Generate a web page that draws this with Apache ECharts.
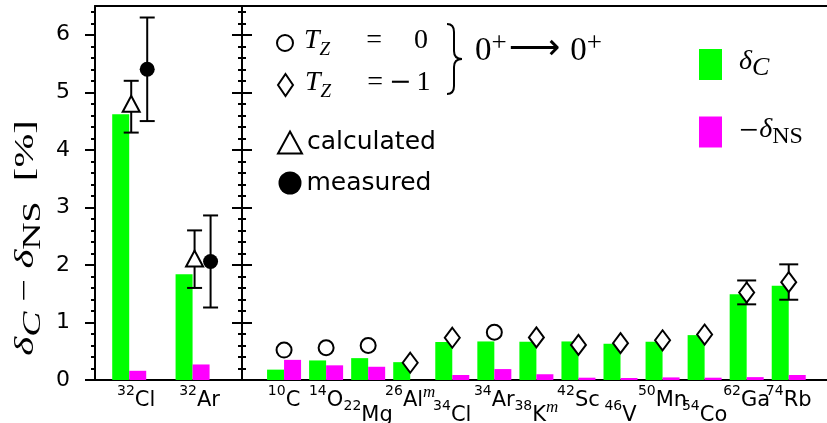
<!DOCTYPE html>
<html><head><meta charset="utf-8">
<script src="https://cdn.jsdelivr.net/npm/echarts@6/dist/echarts.min.js"></script>
<style>html,body{margin:0;padding:0;background:#fff}#c{width:827px;height:423px}</style>
</head><body><div id="c"></div>
<script>
// ---------------- data ----------------
const leftMass = ['32', '32'];
const leftElem = ['Cl', 'Ar'];
const leftDeltaC = [4.62, 1.84];
const leftDeltaNS = [0.16, 0.27];
const leftCalc = [4.80, 2.11];
const leftCalcLow = [4.30, 1.60];
const leftCalcHigh = [5.20, 2.60];
const leftMeas = [5.40, 2.06];
const leftMeasLow = [4.50, 1.26];
const leftMeasHigh = [6.30, 2.86];

const rightMass = ['10', '14', '22', '26', '34', '34', '38', '42', '46', '50', '54', '62', '74'];
const rightElem = ['C', 'O', 'Mg', 'Al', 'Cl', 'Ar', 'K', 'Sc', 'V', 'Mn', 'Co', 'Ga', 'Rb'];
const rightIsomer = [0, 0, 0, 1, 0, 0, 1, 0, 0, 0, 0, 0, 0];
const rightLowRow = [0, 0, 1, 0, 1, 0, 1, 0, 1, 0, 1, 0, 0];
const rightDeltaC = [0.18, 0.34, 0.38, 0.31, 0.66, 0.67, 0.665, 0.67, 0.63, 0.665, 0.78, 1.49, 1.64];
const rightDeltaNS = [0.35, 0.255, 0.23, 0, 0.087, 0.19, 0.10, 0.04, 0.035, 0.045, 0.04, 0.05, 0.087];
const rightTz0 = [0.52, 0.56, 0.60, null, null, 0.83, null, null, null, null, null, null, null];
const rightTzm1 = [null, null, null, 0.30, 0.735, null, 0.74, 0.61, 0.64, 0.69, 0.79, 1.52, 1.70];
const rightErrLow = [null, null, null, null, null, null, null, null, null, null, null, 1.315, 1.395];
const rightErrHigh = [null, null, null, null, null, null, null, null, null, null, null, 1.73, 2.01];

const yTicks = [0, 1, 2, 3, 4, 5, 6];
const yMinorTicks = [0.2, 0.4, 0.6, 0.8, 1.2, 1.4, 1.6, 1.8, 2.2, 2.4, 2.6, 2.8, 3.2, 3.4, 3.6, 3.8,
  4.2, 4.4, 4.6, 4.8, 5.2, 5.4, 5.6, 5.8, 6.2, 6.4];

// ---------------- helpers ----------------
const GREEN = '#00ff00', MAGENTA = '#ff00ff';
const SANS = 'DejaVu Sans', SERIF = 'Liberation Serif';
const idx = a => a.map((_, i) => i);
const pairs = vals => vals.map((v, i) => [i, v]).filter(p => p[1] != null);
const triples = (lo, hi) => lo.map((v, i) => [i, v, hi[i]]).filter(p => p[1] != null);

const leftIdx = idx(leftMass);
const upperIdx = idx(rightMass).filter(i => !rightLowRow[i]);
const lowerIdx = idx(rightMass).filter(i => rightLowRow[i]);
// alternate labels over two axes so neighbouring labels are never auto-hidden
const upperA = upperIdx.filter((_, k) => k % 2 === 0);
const upperB = upperIdx.filter((_, k) => k % 2 === 1);
const lowerA = lowerIdx.filter((_, k) => k % 2 === 0);
const lowerB = lowerIdx.filter((_, k) => k % 2 === 1);

const catRich = {
  sup: { fontFamily: SANS, fontSize: 14, verticalAlign: 'top', color: '#000' },
  el: { fontFamily: SANS, fontSize: 21, lineHeight: 27, verticalAlign: 'bottom', color: '#000' },
  m: { fontFamily: SERIF, fontStyle: 'italic', fontSize: 17, verticalAlign: 'top', color: '#000' }
};
const catLabel = (mass, elem, iso) => '{sup|' + mass + '}{el|' + elem + '}' + (iso ? '{m|m}' : '');

function errorBars(xi, yi, data, dx, cap) {
  return {
    type: 'custom', xAxisIndex: xi, yAxisIndex: yi, z: 3, silent: true,
    data: data, encode: { x: 0, y: [1, 2] },
    renderItem: function (params, api) {
      const x = api.value(0);
      const lo = api.coord([x, api.value(1)]);
      const hi = api.coord([x, api.value(2)]);
      const px = lo[0] + dx;
      const st = { stroke: '#000', lineWidth: 2 };
      return { type: 'group', children: [
        { type: 'line', shape: { x1: px, y1: lo[1], x2: px, y2: hi[1] }, style: st },
        { type: 'line', shape: { x1: px - cap / 2, y1: hi[1], x2: px + cap / 2, y2: hi[1] }, style: st },
        { type: 'line', shape: { x1: px - cap / 2, y1: lo[1], x2: px + cap / 2, y2: lo[1] }, style: st }
      ] };
    }
  };
}

const axisLineStyle = { color: '#000', width: 2 };
function yAx(grid, opts) {
  return Object.assign({
    type: 'value', gridIndex: grid, position: 'left', min: 0, max: 6.5, interval: 1,
    splitLine: { show: false },
    axisLine: { show: false, onZero: false, lineStyle: axisLineStyle },
    axisLabel: { show: false },
    axisTick: { show: false }
  }, opts);
}
function majorTick(inside) {
  return { show: true, inside: inside, length: 10, customValues: yTicks, lineStyle: { color: '#000', width: 2 } };
}
function minorTickAx(inside) {
  return { show: true, inside: inside, length: 4, customValues: yMinorTicks, lineStyle: { color: '#000', width: 2 } };
}

const openStyle = { color: '#fff', borderColor: '#000', borderWidth: 2, opacity: 1 };
const LX_MIN = -0.54, LX_MAX = 1.78, RX_MIN = -1, RX_MAX = 12.91;

function xAx(grid, min, max, pos, lineShow, labelOpts) {
  return {
    type: 'value', gridIndex: grid, position: pos, min: min, max: max, interval: 1,
    splitLine: { show: false },
    axisLine: { show: lineShow, onZero: false, lineStyle: axisLineStyle },
    axisTick: { show: false },
    axisLabel: labelOpts || { show: false }
  };
}
function catAxisLabel(values, margin, getter, padding) {
  return { show: true, customValues: values, margin: margin, rich: catRich, showMinLabel: true, showMaxLabel: true,
    hideOverlap: false, formatter: getter, padding: padding || 0 };
}
const rightGetter = v => { const i = Math.round(v); return rightMass[i] ? catLabel(rightMass[i], rightElem[i], rightIsomer[i]) : ''; };

const braceStyle = { fill: 'none', stroke: '#000', lineWidth: 2 };
const tzRich = (padT, padE) => ({
  t: { fontFamily: SERIF, fontStyle: 'italic', fontSize: 28, lineHeight: 32, verticalAlign: 'top', padding: [0, 0, 0, padT] },
  z: { fontFamily: SERIF, fontStyle: 'italic', fontSize: 19, verticalAlign: 'bottom' },
  e: { fontFamily: SERIF, fontSize: 28, verticalAlign: 'top', padding: [0, 0, 0, 36] },
  v: { fontFamily: SERIF, fontSize: 28, verticalAlign: 'top', padding: [0, 0, 0, padE] },
  m: { fontFamily: 'DejaVu Serif', fontSize: 27, verticalAlign: 'top', padding: [0, 0, 0, 6] },
  w: { fontFamily: SERIF, fontSize: 28, verticalAlign: 'top', padding: [0, 0, 0, 5] }
});

const option = {
  animation: false,
  backgroundColor: '#fff',
  grid: [
    { left: 95, top: 6, width: 147, height: 374, outerBoundsMode: 'none', containLabel: false },
    { left: 242, top: 6, right: 0, height: 374, outerBoundsMode: 'none', containLabel: false }
  ],
  xAxis: [
    xAx(0, LX_MIN, LX_MAX, 'bottom', true,
      catAxisLabel(leftIdx, 4, v => catLabel(leftMass[Math.round(v)], leftElem[Math.round(v)], false), [0, 0, 0, 14])),
    xAx(0, LX_MIN, LX_MAX, 'top', true),
    xAx(1, RX_MIN, RX_MAX, 'bottom', true, catAxisLabel(upperA, 4, rightGetter)),
    xAx(1, RX_MIN, RX_MAX, 'bottom', false, catAxisLabel(upperB, 4, rightGetter)),
    xAx(1, RX_MIN, RX_MAX, 'bottom', false, catAxisLabel(lowerA, 19, rightGetter)),
    xAx(1, RX_MIN, RX_MAX, 'bottom', false, catAxisLabel(lowerB, 19, rightGetter)),
    xAx(1, RX_MIN, RX_MAX, 'top', true)
  ],
  yAxis: [
    yAx(0, { axisLine: { show: true, onZero: false, lineStyle: axisLineStyle }, axisTick: majorTick(false),
      axisLabel: { show: true, customValues: yTicks, margin: 25, fontSize: 22, fontFamily: SANS, color: '#000',
        showMinLabel: true, showMaxLabel: true } }),
    yAx(0, { axisTick: minorTickAx(false) }),
    yAx(1, { axisLine: { show: true, onZero: false, lineStyle: axisLineStyle }, axisTick: majorTick(false) }),
    yAx(1, { axisTick: majorTick(true) }),
    yAx(1, { axisTick: minorTickAx(false) }),
    yAx(1, { axisTick: minorTickAx(true) })
  ],
  legend: [
    {
      data: ['δC', '−δNS'], orient: 'vertical', left: 699, top: 48, padding: 0,
      itemWidth: 23, itemHeight: 31, itemGap: 34, icon: 'rect', selectedMode: false,
      formatter: n => n === 'δC' ? '{d|δ}{c|C}' : '{r|−}{d2|δ}{n|NS}',
      textStyle: { color: '#000', rich: {
        d: { fontFamily: SERIF, fontStyle: 'italic', fontSize: 28, lineHeight: 33, verticalAlign: 'top', padding: [0, 0, 0, 12] },
        c: { fontFamily: SERIF, fontStyle: 'italic', fontSize: 26, verticalAlign: 'bottom' },
        r: { fontFamily: SERIF, fontSize: 34, lineHeight: 33, verticalAlign: 'middle', padding: [0, 1, 0, 12] },
        d2: { fontFamily: SERIF, fontStyle: 'italic', fontSize: 28, verticalAlign: 'top' },
        n: { fontFamily: SERIF, fontSize: 24, verticalAlign: 'bottom' }
      } }
    },
    {
      data: ['Tz0'], left: 276, top: 27, padding: 0, itemWidth: 16, itemHeight: 16, selectedMode: false,
      itemStyle: openStyle,
      formatter: () => '{t|T}{z|Z}{e|=}{v|0}',
      textStyle: { color: '#000', rich: tzRich(6, 32) }
    },
    {
      data: ['Tz-1'], left: 277, top: 69, padding: 0, itemWidth: 15, itemHeight: 22, selectedMode: false,
      itemStyle: openStyle,
      formatter: () => '{t|T}{z|Z}{e|=}{m|−}{w|1}',
      textStyle: { color: '#000', rich: tzRich(7, 6) }
    },
    {
      data: ['calculated'], left: 277, top: 130, padding: 0, itemWidth: 24, itemHeight: 22, selectedMode: false,
      itemStyle: openStyle,
      textStyle: { color: '#000', fontFamily: SANS, fontSize: 25 }
    },
    {
      data: ['measured'], left: 278.5, top: 170.5, padding: 0, itemWidth: 23, itemHeight: 23, selectedMode: false,
      itemStyle: { color: '#000', opacity: 1 },
      textStyle: { color: '#000', fontFamily: SANS, fontSize: 25 }
    }
  ],
  graphic: [
    {
      type: 'text', x: 29, y: 238, rotation: Math.PI / 2, scaleX: 1.45,
      style: {
        text: '{d|δ}{s|C}{m| − }{d|δ}{n|NS}{b|  [%]}', fill: '#000', align: 'center', verticalAlign: 'middle',
        textAlign: 'center', textVerticalAlign: 'middle',
        rich: {
          d: { fontFamily: SERIF, fontStyle: 'italic', fontSize: 28, lineHeight: 34, verticalAlign: 'top' },
          s: { fontFamily: SERIF, fontStyle: 'italic', fontSize: 26, verticalAlign: 'bottom' },
          m: { fontFamily: SERIF, fontSize: 28, verticalAlign: 'top' },
          n: { fontFamily: SERIF, fontSize: 26, verticalAlign: 'bottom' },
          b: { fontFamily: SERIF, fontSize: 28, verticalAlign: 'top' }
        }
      }
    },
    { type: 'bezierCurve', shape: { x1: 447, y1: 24, cpx1: 454, cpy1: 24, x2: 454, y2: 32 }, style: braceStyle },
    { type: 'line', shape: { x1: 454, y1: 32, x2: 454, y2: 51 }, style: braceStyle },
    { type: 'bezierCurve', shape: { x1: 454, y1: 51, cpx1: 454, cpy1: 59, x2: 462, y2: 59 }, style: braceStyle },
    { type: 'bezierCurve', shape: { x1: 462, y1: 59, cpx1: 454, cpy1: 59, x2: 454, y2: 67 }, style: braceStyle },
    { type: 'line', shape: { x1: 454, y1: 67, x2: 454, y2: 86 }, style: braceStyle },
    { type: 'bezierCurve', shape: { x1: 454, y1: 86, cpx1: 454, cpy1: 94, x2: 447, y2: 94 }, style: braceStyle },
    {
      type: 'text', x: 475, y: 30,
      style: {
        text: '{z|0}{p|+}{a|⟶}{z|0}{p|+}', fill: '#000', align: 'left', verticalAlign: 'top',
        textAlign: 'left', textVerticalAlign: 'top',
        rich: {
          z: { fontFamily: SERIF, fontSize: 33, lineHeight: 38, verticalAlign: 'bottom' },
          p: { fontFamily: SERIF, fontSize: 27, verticalAlign: 'top', padding: [0, 0, 3, 0] },
          a: { fontFamily: SANS, fontSize: 36, verticalAlign: 'bottom', padding: [0, 10, 0, 2] }
        }
      }
    }
  ],
  series: [
    { name: 'δC', type: 'bar', xAxisIndex: 0, yAxisIndex: 0, barWidth: 17, barGap: '0%', color: GREEN, data: pairs(leftDeltaC) },
    { name: '−δNS', type: 'bar', xAxisIndex: 0, yAxisIndex: 0, barWidth: 17, barGap: '0%', color: MAGENTA, data: pairs(leftDeltaNS) },
    { name: 'δC', type: 'bar', xAxisIndex: 2, yAxisIndex: 2, barWidth: 17, barGap: '0%', color: GREEN, data: pairs(rightDeltaC) },
    { name: '−δNS', type: 'bar', xAxisIndex: 2, yAxisIndex: 2, barWidth: 17, barGap: '0%', color: MAGENTA, data: pairs(rightDeltaNS) },
    errorBars(0, 0, triples(leftCalcLow, leftCalcHigh), 2, 15),
    errorBars(0, 0, triples(leftMeasLow, leftMeasHigh), 18, 15),
    errorBars(2, 2, triples(rightErrLow, rightErrHigh), 0, 19),
    { name: 'calculated', type: 'scatter', xAxisIndex: 0, yAxisIndex: 0, z: 5, symbol: 'triangle', symbolSize: [17, 16],
      symbolOffset: [2, 0], itemStyle: openStyle, data: pairs(leftCalc) },
    { name: 'measured', type: 'scatter', xAxisIndex: 0, yAxisIndex: 0, z: 5, symbol: 'circle', symbolSize: 15,
      symbolOffset: [18, 0], itemStyle: { color: '#000', opacity: 1 }, data: pairs(leftMeas) },
    { name: 'Tz0', type: 'scatter', xAxisIndex: 2, yAxisIndex: 2, z: 5, symbol: 'circle', symbolSize: 15,
      itemStyle: openStyle, data: pairs(rightTz0) },
    { name: 'Tz-1', type: 'scatter', xAxisIndex: 2, yAxisIndex: 2, z: 5, symbol: 'diamond', symbolSize: [15, 20],
      itemStyle: openStyle, data: pairs(rightTzm1) }
  ]
};
const chart = echarts.init(document.getElementById('c'), null, { renderer: 'canvas' });
chart.setOption(option);
</script></body></html>
